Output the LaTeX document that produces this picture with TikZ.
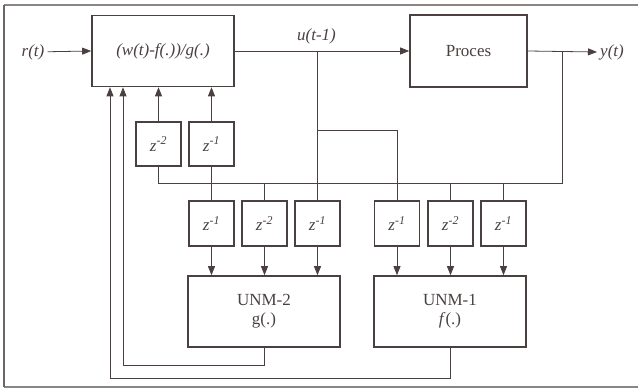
\documentclass[tikz,border=0pt]{standalone}
\usepackage{fontspec}
\setmainfont{Liberation Serif}
\usetikzlibrary{arrows.meta,positioning,calc}
\definecolor{ink}{HTML}{4A4040}
\definecolor{frame}{HTML}{8A8686}
\tikzset{ctrlbox/.style={draw=ink,line width=1.6pt,text=ink,align=center,minimum width=152pt,minimum height=71pt,inner sep=0pt},delaybox/.style={draw=ink,line width=1.5pt,text=ink,minimum width=45pt,minimum height=45pt,inner sep=0pt},sigline/.style={draw=ink,line width=0.8pt},sigarr/.style={-{Triangle[length=9pt,width=7pt]},draw=ink,line width=0.8pt},siglabel/.style={text=ink,font=\itshape,inner sep=3pt}}
\newcommand{\zdel}[1]{\textit{z}\textsuperscript{\textit{-#1}}}
\begin{document}
\fontsize{17}{19}\selectfont
\begin{tikzpicture}[x=1pt,y=-1pt]
\useasboundingbox (0,0) rectangle (638,390);
% outer frame
\draw[frame,line width=1.6pt] (4,5) -- (640,5);
\draw[frame,line width=1.6pt] (4,387) -- (640,387);
\draw[ink!80,line width=1.4pt] (4,5) -- (4,387);
% main blocks
\node[ctrlbox,minimum width=142pt] (ctrl) at (163,51) {\textit{(w(t)-f(.))/g(.)}};
\node[ctrlbox,minimum width=117pt,minimum height=72pt] (proces) at (468.5,51) {Proces};
\node[ctrlbox] (unm2) at (264,311.5) {UNM-2\\g(.)};
\node[ctrlbox] (unm1) at (450,311.5) {UNM-1\\\textit{f}(.)};
\node[siglabel] (rin) at (33,52) {r(t)};
\node[siglabel] (yout) at (612,52) {y(t)};
\node[siglabel] (ulab) at (316.5,36) {u(t-1)};
% delay blocks
\node[delaybox,minimum height=44pt] (zc2) at (158.5,144) {\zdel{2}};
\node[delaybox,minimum height=44pt] (zc1) at (211.5,144) {\zdel{1}};
\node[delaybox] (zg1) at (211.5,223.5) {\zdel{1}};
\node[delaybox] (zg2) at (264.5,223.5) {\zdel{2}};
\node[delaybox] (zg3) at (317.5,223.5) {\zdel{1}};
\node[delaybox] (zf1) at (397,223.5) {\zdel{1}};
\node[delaybox] (zf2) at (450.5,223.5) {\zdel{2}};
\node[delaybox] (zf3) at (503.5,223.5) {\zdel{1}};
% branch points
\coordinate (ubr) at (317.5,51);
\coordinate (ubr2) at (317.5,130);
\coordinate (ybr) at (562,51);
\coordinate (ybus) at (562,183);
\coordinate (fb2) at (123,365);
\coordinate (fb1) at (110,378);
% forward path
\draw[sigarr] (rin) -- (ctrl.west);
\draw[sigarr] (ctrl.east) -- (proces.west);
\draw[sigarr] (proces.east) -- (yout.west);
% u(t-1) taps
\draw[sigline] (ubr) -- (zg3.north);
\draw[sigline] (ubr2) -| (zf1.north);
% y(t) taps
\draw[sigline] (ybr) -- (ybus) -| (zc2.south);
\draw[sigline] (zc1.south) -- (zg1.north);
\draw[sigline] (zg2.north) -- (zg2.north |- ybus);
\draw[sigline] (zf2.north) -- (zf2.north |- ybus);
\draw[sigline] (zf3.north) -- (zf3.north |- ybus);
% into controller
\draw[sigarr] (zc2.north) -- (zc2.north |- ctrl.south);
\draw[sigarr] (zc1.north) -- (zc1.north |- ctrl.south);
\foreach \z/\m in {zg1/unm2,zg2/unm2,zg3/unm2,zf1/unm1,zf2/unm1,zf3/unm1}
  \draw[sigarr] (\z.south) -- (\z.south |- \m.north);
% feedback of g and f
\draw[sigarr] (unm2.south) |- (fb2) -- (fb2 |- ctrl.south);
\draw[sigarr] (unm1.south) |- (fb1) -- (fb1 |- ctrl.south);
\end{tikzpicture}
\end{document}
